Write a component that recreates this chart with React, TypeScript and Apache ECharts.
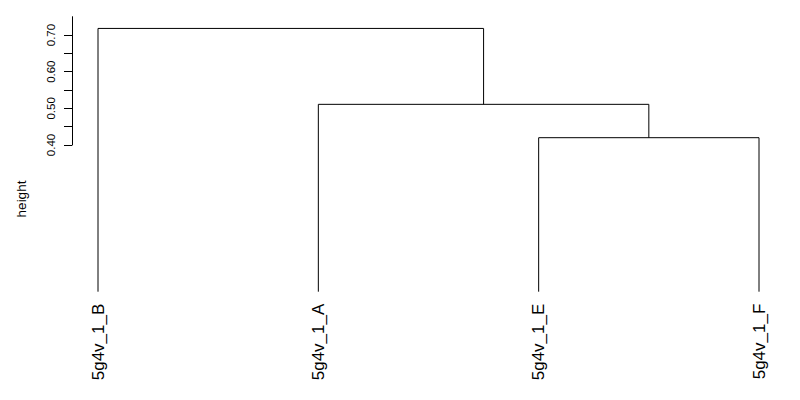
import React, { useEffect, useRef } from "react";
import * as echarts from "echarts";

// Leaf labels in dendrogram order
const leafLabels = ["5g4v_1_B", "5g4v_1_A", "5g4v_1_E", "5g4v_1_F"];
// hclust-style merge matrix: negative = leaf (1-based index into leafLabels), positive = earlier merge
const mergeLeft = [-3, -2, -1];
const mergeRight = [-4, 1, 2];
const mergeHeights = [0.42, 0.511, 0.718];
// y axis ticks
const yTickMin = 0.4;
const yTickMax = 0.75;
const yTickStep = 0.05;

const FONT = "'Liberation Sans', Arial, Helvetica, sans-serif";

function buildSegments() {
  const nodeX: number[] = [];
  const nodeH: number[] = [];
  const segs: number[][][] = [];
  const pos = (id: number) => (id < 0 ? -id : nodeX[id - 1]);
  const hgt = (id: number) => (id < 0 ? 0 : nodeH[id - 1]);
  for (let i = 0; i < mergeHeights.length; i++) {
    const l = mergeLeft[i];
    const r = mergeRight[i];
    const h = mergeHeights[i];
    const xl = pos(l);
    const xr = pos(r);
    segs.push([
      [xl, hgt(l)],
      [xl, h],
      [xr, h],
      [xr, hgt(r)],
    ]);
    nodeX.push((xl + xr) / 2);
    nodeH.push(h);
  }
  return segs;
}

export default function App() {
  const ref = useRef<HTMLDivElement>(null);
  useEffect(() => {
    if (!ref.current) return;
    const chart = echarts.init(ref.current, null, { renderer: "svg" });
    const segs = buildSegments();
    chart.setOption({
      animation: false,
      backgroundColor: "#ffffff",
      textStyle: { fontFamily: FONT },
      grid: [
        { left: 98, right: 41, top: 16.7, bottom: 108.3 },
        { left: 72, right: 700, top: 16.7, bottom: 255 },
      ],
      xAxis: [
        {
          type: "value",
          gridIndex: 0,
          min: 1,
          max: leafLabels.length,
          interval: 1,
          axisLine: { show: false },
          axisTick: { show: false },
          splitLine: { show: false },
          axisLabel: {
            rotate: 90,
            margin: 12,
            fontSize: 17,
            color: "#000",
            fontFamily: FONT,
            formatter: (v: number) => leafLabels[Math.round(v) - 1] ?? "",
          },
        },
        { type: "value", gridIndex: 1, show: false },
      ],
      yAxis: [
        {
          type: "value",
          gridIndex: 0,
          min: 0,
          max: yTickMax,
          show: false,
        },
        {
          type: "value",
          gridIndex: 1,
          min: yTickMin,
          max: yTickMax,
          interval: yTickStep,
          axisLine: { show: true, lineStyle: { color: "#000", width: 1 } },
          axisTick: { show: true, length: 8, lineStyle: { color: "#000", width: 1 } },
          splitLine: { show: false },
          axisLabel: {
            rotate: 90,
            margin: 15,
            fontSize: 11.5,
            color: "#000",
            fontFamily: FONT,
            showMaxLabel: false,
            formatter: (v: number) =>
              Math.round(v * 100) % 10 === 0 ? v.toFixed(2) : "",
          },
        },
      ],
      series: segs.map((s) => ({
        type: "line",
        xAxisIndex: 0,
        yAxisIndex: 0,
        data: s,
        symbol: "none",
        silent: true,
        lineStyle: { color: "#000", width: 1 },
      })),
      graphic: [
        {
          type: "text",
          x: 21.5,
          y: 199,
          rotation: Math.PI / 2,
          style: {
            text: "height",
            fontSize: 13.5,
            fontFamily: FONT,
            fill: "#000",
            textAlign: "center",
            textVerticalAlign: "middle",
          },
        },
      ],
    });
    return () => chart.dispose();
  }, []);
  return <div ref={ref} style={{ width: 800, height: 400, margin: -8 }} />;
}
